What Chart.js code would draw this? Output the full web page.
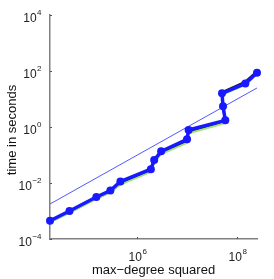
<!DOCTYPE html>
<html lang="en">
<head>
    <meta charset="UTF-8">
    <title>Time vs max-degree squared</title>
    <script src="https://cdn.jsdelivr.net/npm/chart.js"></script>
    <style>
        html, body { margin: 0; padding: 0; background: #fff; }
        #wrap { width: 274px; height: 279px; }
    </style>
</head>
<body>
    <div id="wrap"><canvas id="timingChart" width="274" height="279"></canvas></div>

    <script>
        // max-degree squared (x) and timings in seconds (y)
        const maxDegreeSq = [1.78e4, 4.37e4, 1.51e5, 2.88e5, 4.57e5, 1.86e6, 2.17e6, 2.99e6, 9.86e6, 1.06e7, 5.75e7, 5.18e7, 4.94e7, 1.45e8, 2.48e8];
        const timeBlue  = [4.5e-4, 1.0e-3, 3.16e-3, 5.4e-3, 1.13e-2, 3.1e-2, 6.6e-2, 0.135, 0.363, 0.78, 1.73, 5.5, 16.0, 36, 87];
        const timeBlack = [4.1e-4, 9.0e-4, 2.85e-3, 4.8e-3, 9.6e-3, 2.65e-2, 5.7e-2, 0.118, 0.31, 0.68, 1.5, 5.1, 17.5, 42, 98];
        const timeGreen = [3.9e-4, 8.6e-4, 2.7e-3, 4.6e-3, 8.8e-3, 2.5e-2, 5.4e-2, 0.108, 0.27, 0.6, 1.4, 4.7, 14.0, 32, 78];
        // linear reference line
        const refX = [1.78e4, 2.48e8];
        const refY = [1.78e-3, 24.8];

        const yTickExps = [-4, -2, 0, 2, 4];
        const xTickExps = [6, 8];
        const xTitle = 'max\u2212degree squared';
        const yTitle = 'time in seconds';

        const toPoints = (xs, ys) => xs.map((x, i) => ({ x: x, y: ys[i] }));
        const FONT = '"Liberation Sans", Arial, Helvetica, sans-serif';

        // draws inward tick marks, 10^n labels and axis titles
        const axisDecor = {
            id: 'axisDecor',
            afterDraw(chart) {
                const ctx = chart.ctx;
                const xs = chart.scales.x, ys = chart.scales.y;
                const area = chart.chartArea;
                ctx.save();
                ctx.strokeStyle = '#555';
                ctx.lineWidth = 1;
                ctx.fillStyle = '#222';

                const drawPow = (exp, cx, baseY, align) => {
                    const expStr = String(exp).replace('-', '\u2212');
                    ctx.font = '12px ' + FONT;
                    const w10 = ctx.measureText('10').width;
                    ctx.font = '8px ' + FONT;
                    const wE = ctx.measureText(expStr).width;
                    let left = align === 'right' ? cx - w10 - wE : cx - (w10 + wE) / 2;
                    ctx.textAlign = 'left';
                    ctx.textBaseline = 'alphabetic';
                    ctx.font = '12px ' + FONT;
                    ctx.fillText('10', left, baseY);
                    ctx.font = '8px ' + FONT;
                    ctx.fillText(expStr, left + w10 + 0.5, baseY - 7);
                };

                yTickExps.forEach((e) => {
                    const py = Math.round(ys.getPixelForValue(Math.pow(10, e))) + 0.5;
                    ctx.beginPath();
                    ctx.moveTo(area.left, py);
                    ctx.lineTo(area.left + 2, py);
                    ctx.stroke();
                    drawPow(e, area.left - 9, py + 6.5, 'right');
                });
                xTickExps.forEach((e) => {
                    const px = Math.round(xs.getPixelForValue(Math.pow(10, e))) + 0.5;
                    ctx.beginPath();
                    ctx.moveTo(px, area.bottom);
                    ctx.lineTo(px, area.bottom - 2);
                    ctx.stroke();
                    drawPow(e, px, area.bottom + 22, 'center');
                });

                ctx.fillStyle = '#111';
                ctx.font = '13px ' + FONT;
                ctx.textAlign = 'center';
                ctx.textBaseline = 'alphabetic';
                ctx.fillText(xTitle, (area.left + area.right) / 2, 274);

                ctx.translate(16, (area.top + area.bottom) / 2 + 3);
                ctx.rotate(-Math.PI / 2);
                ctx.fillText(yTitle, 0, 0);
                ctx.restore();
            }
        };

        const ctx = document.getElementById('timingChart').getContext('2d');
        new Chart(ctx, {
            type: 'scatter',
            data: {
                datasets: [
                    { label: 'reference', data: toPoints(refX, refY), showLine: true, borderColor: 'rgb(80, 90, 255)', borderWidth: 1, pointRadius: 0, order: 1 },
                    { label: 'blue', data: toPoints(maxDegreeSq, timeBlue), showLine: true, borderColor: 'rgb(25, 25, 255)', backgroundColor: 'rgb(25, 25, 255)', borderWidth: 3.5, pointRadius: 4, pointBorderWidth: 0, clip: false, order: 0 },
                    { label: 'green', data: toPoints(maxDegreeSq, timeGreen), showLine: true, borderColor: 'rgb(160, 225, 120)', borderWidth: 2, pointRadius: 0, order: 2 },
                    { label: 'black', data: toPoints(maxDegreeSq, timeBlack), showLine: true, borderColor: 'rgb(20, 20, 20)', borderWidth: 2, pointRadius: 0, order: 3 }
                ]
            },
            options: {
                responsive: false,
                animation: false,
                events: [],
                layout: { padding: { left: 0, top: 15, right: 17, bottom: 0 } },
                plugins: { legend: { display: false }, tooltip: { enabled: false } },
                elements: { line: { tension: 0 } },
                scales: {
                    x: {
                        type: 'logarithmic',
                        min: 1.78e4,
                        max: 2.48e8,
                        grid: { display: false },
                        border: { display: true, color: '#808080', width: 1.5 },
                        ticks: { display: false },
                        afterBuildTicks: (s) => { s.ticks = xTickExps.map((e) => ({ value: Math.pow(10, e) })); },
                        afterFit: (s) => { s.height = 40; }
                    },
                    y: {
                        type: 'logarithmic',
                        min: 1e-4,
                        max: 1e4,
                        grid: { display: false },
                        border: { display: true, color: '#808080', width: 1.5 },
                        ticks: { display: false },
                        afterBuildTicks: (s) => { s.ticks = yTickExps.map((e) => ({ value: Math.pow(10, e) })); },
                        afterFit: (s) => { s.width = 50; }
                    }
                }
            },
            plugins: [axisDecor]
        });
    </script>
</body>
</html>
